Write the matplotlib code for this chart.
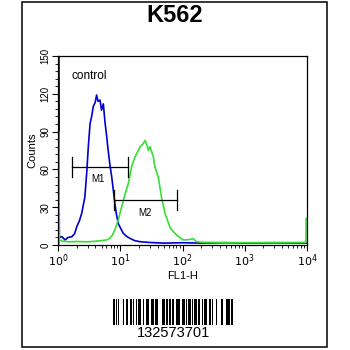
import matplotlib
matplotlib.use('Agg')
import matplotlib.pyplot as plt
from matplotlib.patches import Rectangle
from matplotlib.ticker import MultipleLocator, LogLocator, NullFormatter

plt.rcParams['font.family'] = ['Liberation Sans', 'DejaVu Sans']

# histogram: (FL1-H, counts)
control_x = [1.02, 1.02, 1.05, 1.15, 1.3, 1.45, 1.66, 1.85, 2.0, 2.2, 2.4, 2.7, 2.9,
             3.07, 3.27, 3.5, 3.69, 3.95, 4.17, 4.4, 4.73, 5.0, 5.35, 5.7, 6.0,
             6.4, 6.85, 7.3, 7.8, 8.2, 8.7, 9.3, 10.2, 11.2, 12.5, 14.3, 17, 20.8,
             30, 50, 100, 200, 500, 1000, 3000, 10000]
control_y = [0, 160, 6, 6.6, 4, 6, 6.5, 9, 14.5, 19, 25, 38, 58,
             78, 96, 103, 110, 113, 119, 114, 115, 107, 112, 97, 88,
             75, 63, 54, 42, 33, 24, 17, 13, 9.3, 7, 5.3, 3.5, 2.6,
             2, 1.5, 1.8, 1.5, 1.8, 1.5, 1.7, 1.5]

sample_x = [1.02, 1.02, 1.05, 1.2, 1.5, 2, 3, 4, 5, 6, 6.8, 7.5, 8.2, 9.3, 10.5,
            11.9, 13.5, 15.2, 17.3, 19, 20.8, 23, 25, 27, 28.3, 30, 32, 34, 36,
            40.8, 46, 52.5, 58, 63, 70, 80, 90, 103, 125, 149, 165, 200, 400,
            1000, 3000, 9600, 9700]
sample_y = [0, 90, 4, 3, 2.5, 2.8, 2.5, 3, 3.5, 4, 5.3, 8, 12, 20, 30,
            40, 49, 62, 70, 74, 78, 80, 83, 79, 75, 78, 74, 70, 62,
            54, 38, 25, 19, 14, 11, 8, 6, 4, 4.2, 5, 2.8, 2.2, 2,
            1.8, 2, 2, 21]

# marker gates: name, low, high, level, label position
gates = [('M1', 1.66, 13.5, 62, 4.4, 52),
         ('M2', 7.8, 80.5, 36, 25, 25)]

yticks = [0, 30, 60, 90, 120, 150]
xticks = [1, 10, 100, 1000, 10000]
xticklabels = ['$10^0$', '$10^1$', '$10^2$', '$10^3$', '$10^4$']

fig = plt.figure(figsize=(3.5, 3.5), dpi=100)
ax = fig.add_axes([58 / 350, 105 / 350, 249 / 350, 189 / 350])

ax.plot(control_x, control_y, color='#0000cc', lw=1.2)
ax.plot(sample_x, sample_y, color='#33e033', lw=1.2)

for name, lo, hi, lev, tx, ty in gates:
    ax.plot([lo, hi], [lev, lev], color='black', lw=0.9)
    ax.plot([lo, lo], [lev - 8, lev + 8], color='black', lw=0.9)
    ax.plot([hi, hi], [lev - 8, lev + 8], color='black', lw=0.9)
    ax.text(tx, ty, name, ha='center', va='center', fontsize=7)

ax.text(1.66, 134, 'control', fontsize=8.5, va='center')

ax.set_xscale('log')
ax.set_xlim(1, 10000)
ax.set_ylim(0, 150)
ax.set_xticks(xticks)
ax.set_xticklabels(xticklabels, fontsize=8)
ax.xaxis.set_minor_locator(LogLocator(base=10, subs=range(2, 10)))
ax.xaxis.set_minor_formatter(NullFormatter())
ax.set_yticks(yticks)
ax.set_yticklabels([str(v) for v in yticks], fontsize=7, rotation=90, va='center')
ax.yaxis.set_minor_locator(MultipleLocator(6))
ax.tick_params(which='major', length=4, width=0.8, pad=1.5)
ax.tick_params(which='minor', length=2.5, width=0.6)
for s in ax.spines.values():
    s.set_linewidth(0.9)
ax.set_xlabel('FL1-H', fontsize=8, labelpad=1)
ax.set_ylabel('Counts', fontsize=8, labelpad=2)

fig.text(175 / 350, 1 - 16 / 350, 'K562', ha='center', va='center',
         fontsize=17, fontweight='bold')

# outer frame
fig.patches.append(Rectangle((22 / 350, 3 / 350), 305 / 350, 345 / 350,
                             transform=fig.transFigure, fill=False,
                             lw=1.1, ec='black'))

# barcode (Code 128 B) for the sample id
code_text = '132573701'
patterns = {16: '123122', 17: '123221', 18: '223211', 19: '221132',
            21: '213212', 23: '312131', 41: '231311', 104: '211214'}
vals = [ord(c) - 32 for c in code_text]
check = (104 + sum((i + 1) * v for i, v in enumerate(vals))) % 103
widths = patterns[104] + ''.join(patterns[v] for v in vals) + patterns[check] + '2331112'
total = sum(int(w) for w in widths)
bx0, bx1 = 113 / 350, 233 / 350
unit = (bx1 - bx0) / total
pos = bx0
for i, w in enumerate(widths):
    w = int(w)
    if i % 2 == 0:
        fig.patches.append(Rectangle((pos, 1 - 325 / 350), w * unit, 26 / 350,
                                     transform=fig.transFigure, fc='black', ec='none'))
    pos += w * unit
fig.text(174 / 350, 1 - 333 / 350, code_text, ha='center', va='center', fontsize=10.5)

fig.savefig('out.png', dpi=100)
